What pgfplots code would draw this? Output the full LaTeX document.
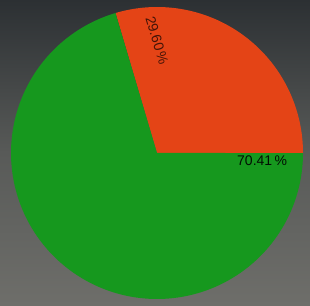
\documentclass[border=0pt]{standalone}
\usepackage{pgfplots}
\pgfplotsset{compat=1.18}
\usepackage{fontspec}
\setmainfont{Liberation Sans}
\definecolor{pieRed}{RGB}{228,68,22}
\definecolor{pieGreen}{RGB}{22,152,30}
\definecolor{bgTop}{RGB}{44,48,51}
\definecolor{bgMid}{RGB}{88,90,88}
\definecolor{bgBot}{RGB}{110,110,106}
\begin{document}
\begin{tikzpicture}[x=1pt,y=1pt]
\shade[top color=bgTop, bottom color=bgBot, middle color=bgMid] (0,0) rectangle (310,305);
\begin{axis}[
  at={(157pt,152pt)}, anchor=center,
  scale only axis, width=292pt, height=292pt,
  xmin=-1, xmax=1, ymin=-1, ymax=1,
  hide axis, clip=false,
]
% slice values: 29.59 % (red) and 70.41 % (green); angles = value*3.6
\addplot[draw=none, fill=pieRed, data cs=polar, domain=0:106.52, samples=90] (x,1) -- (axis cs:0,0) -- cycle;
\addplot[draw=none, fill=pieGreen, data cs=polar, domain=106.52:360, samples=200] (x,1) -- (axis cs:0,0) -- cycle;
\node[font=\fontsize{14}{16}\selectfont, text=black!90!pieGreen, anchor=center] at (axis cs:0.72,-0.055) {70.41\,\%};
\node[font=\fontsize{14}{16}\selectfont, text=black!70!pieRed, rotate=-73.5, anchor=center] at (axis cs:0.0,0.77) {29.60\,\%};
\end{axis}
\end{tikzpicture}
\end{document}
